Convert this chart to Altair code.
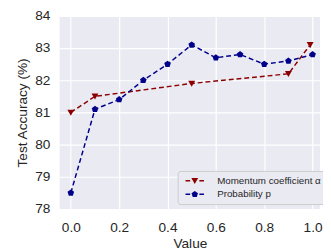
import altair as alt
import pandas as pd

# ---- data ----
alpha_x = [0.0, 0.1, 0.5, 0.9, 0.99]
alpha_acc = [81.0, 81.5, 81.9, 82.2, 83.1]
p_x = [0.0, 0.1, 0.2, 0.3, 0.4, 0.5, 0.6, 0.7, 0.8, 0.9, 1.0]
p_acc = [78.5, 81.1, 81.4, 82.0, 82.5, 83.1, 82.7, 82.8, 82.5, 82.6, 82.8]
series_names = ["Momentum coefficient α", "Probability p"]
series_colors = ["#8B0000", "#00008B"]
x_ticks = [0.0, 0.2, 0.4, 0.6, 0.8, 1.0]
y_ticks = [78, 79, 80, 81, 82, 83, 84]

df = pd.concat([
    pd.DataFrame({"x": alpha_x, "acc": alpha_acc, "series": series_names[0]}),
    pd.DataFrame({"x": p_x, "acc": p_acc, "series": series_names[1]}),
])

pent = "M0,-1L0.951,-0.309L0.588,0.809L-0.588,0.809L-0.951,-0.309Z"
tri = "M-1,-0.8L1,-0.8L0,0.95Z"
dashes = "M-2.7,-0.22L-1.35,-0.22L-1.35,0.22L-2.7,0.22ZM1.35,-0.22L2.7,-0.22L2.7,0.22L1.35,0.22Z"
markers = [tri, pent]
legend_symbols = [tri + dashes, pent + dashes]

font = "Liberation Sans"
txt = "#262626"

x_enc = alt.X("x:Q", scale=alt.Scale(domain=[-0.046, 1.031], nice=False, zero=False),
              axis=alt.Axis(values=x_ticks, format=".1f", title="Value"))
y_enc = alt.Y("acc:Q", scale=alt.Scale(domain=[78, 84], nice=False, zero=False),
              axis=alt.Axis(values=y_ticks, format="d", title="Test Accuracy (%)"))

legend = alt.Legend(
    title=None, orient="none", legendX=121, legendY=159,
    fillColor="#EAEAF2", strokeColor="#cccccc", cornerRadius=3, padding=5,
    labelFontSize=10, labelFont=font, labelColor=txt, symbolSize=49,
    rowPadding=4, labelOffset=18, symbolOffset=7.5, symbolStrokeWidth=0,
)

# legend-only layer (first, so its settings lead); its marks have zero size
legend_layer = alt.Chart(df).mark_point(
    filled=True, opacity=1, strokeWidth=0
).encode(
    x=x_enc, y=y_enc,
    color=alt.Color("series:N", scale=alt.Scale(domain=series_names, range=series_colors), legend=legend),
    shape=alt.Shape("series:N", scale=alt.Scale(domain=series_names, range=legend_symbols), legend=legend),
    size=alt.value(0),
)

layers = [legend_layer]
for name, shp, col in zip(series_names, markers, series_colors):
    sub = alt.Chart(df).transform_filter(alt.datum.series == name)
    layers.append(sub.mark_line(strokeDash=[5, 3], strokeWidth=1.5, color=col).encode(x=x_enc, y=y_enc))
    layers.append(sub.mark_point(filled=True, size=50, opacity=1, shape=shp, color=col).encode(x=x_enc, y=y_enc))

chart = alt.layer(*layers).properties(
    width=267, height=198,
    autosize=alt.AutoSizeParams(type="none"),
    padding={"left": 53, "top": 5, "right": 3, "bottom": 40},
    background="white",
).configure_view(
    fill="#EAEAF2", stroke=None,
).configure_axis(
    grid=True, gridColor="white", gridWidth=1.2, domain=False, ticks=False,
    labelFont=font, labelFontSize=14, labelColor=txt,
    titleFont=font, titleFontSize=14, titleColor=txt, titleFontWeight="normal",
).configure_axisY(
    labelPadding=10, titlePadding=5,
).configure_axisX(
    labelPadding=12, titlePadding=2,
)

chart.save("out.html", embed_options={"renderer": "svg", "actions": False})
